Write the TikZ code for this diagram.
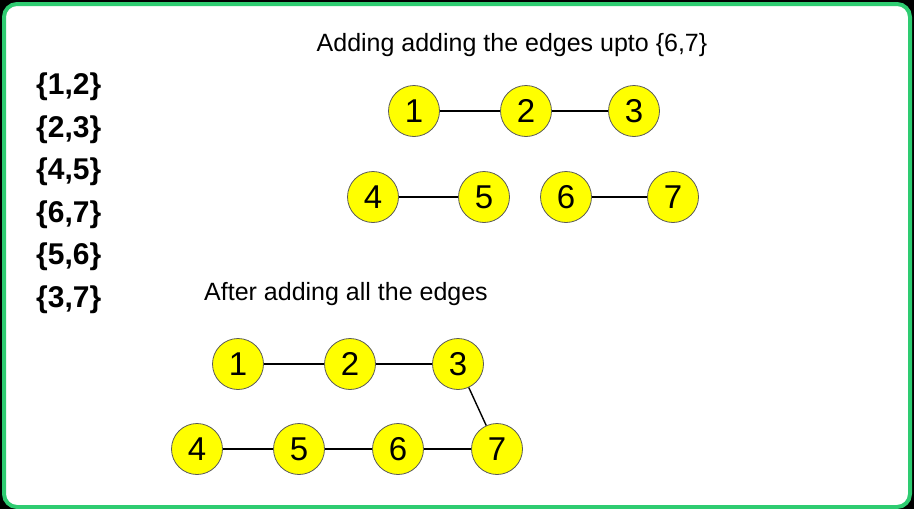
\documentclass[tikz,border=0pt]{standalone}
\usepackage{fontspec}
\setmainfont{Liberation Sans}
\definecolor{brd}{RGB}{46,204,113}
\definecolor{nodey}{RGB}{255,255,0}
\definecolor{ring}{RGB}{90,90,90}
\begin{document}
\begin{tikzpicture}[x=1pt,y=-1pt,
  vtx/.style={circle,draw=ring,line width=0.8pt,fill=nodey,minimum size=51pt,inner sep=0pt,font=\fontsize{33}{38}\selectfont},
  edge/.style={line width=1.4pt},
  lbl/.style={font=\fontsize{25}{30}\selectfont,inner sep=0pt},
  pair/.style={font=\bfseries\fontsize{30}{34}\selectfont,anchor=west,inner sep=0pt}]
\useasboundingbox (0,0) rectangle (914,509);
\fill[black] (0,0) rectangle (914,509);
\draw[brd,line width=4pt,fill=white,rounded corners=13pt] (4,4) rectangle (910,507);

% left list
\node[pair] (p1) at (36,87) {\{1,2\}};
\node[pair] (p2) at (36,130) {\{2,3\}};
\node[pair] (p3) at (36,172) {\{4,5\}};
\node[pair] (p4) at (36,215) {\{6,7\}};
\node[pair] (p5) at (36,257) {\{5,6\}};
\node[pair] (p6) at (36,300) {\{3,7\}};

% titles
\node[lbl] (t1) at (512,45) {Adding adding the edges upto \{6,7\}};
\node[lbl] (t2) at (346,294) {After adding all the edges};

% top graph
\node[vtx] (a1) at (414,111) {1};
\node[vtx] (a2) at (526,111) {2};
\node[vtx] (a3) at (634,111) {3};
\node[vtx] (a4) at (373,197) {4};
\node[vtx] (a5) at (484,197) {5};
\node[vtx] (a6) at (566,197) {6};
\node[vtx] (a7) at (673,197) {7};
\draw[edge] (a1) -- (a2);
\draw[edge] (a2) -- (a3);
\draw[edge] (a4) -- (a5);
\draw[edge] (a6) -- (a7);

% bottom graph
\node[vtx] (b1) at (238,364) {1};
\node[vtx] (b2) at (350,364) {2};
\node[vtx] (b3) at (458,364) {3};
\node[vtx] (b4) at (197,449) {4};
\node[vtx] (b5) at (299,449) {5};
\node[vtx] (b6) at (398,449) {6};
\node[vtx] (b7) at (497,449) {7};
\draw[edge] (b1) -- (b2);
\draw[edge] (b2) -- (b3);
\draw[edge] (b3) -- (b7);
\draw[edge] (b4) -- (b5);
\draw[edge] (b5) -- (b6);
\draw[edge] (b6) -- (b7);
\end{tikzpicture}
\end{document}
